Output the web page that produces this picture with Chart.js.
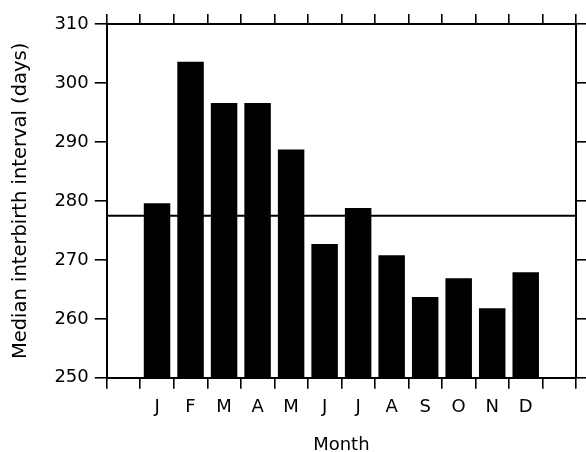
<!DOCTYPE html>
<html><head><meta charset="utf-8">
<script src="https://cdn.jsdelivr.net/npm/chart.js@4/dist/chart.umd.min.js"></script>
<style>html,body{margin:0;padding:0;background:#fff}#wrap{width:586px;height:452px}</style>
</head><body><div id="wrap"><canvas id="c"></canvas></div>
<script>
const months = ['J','F','M','A','M','J','J','A','S','O','N','D'];
const medianInterval = [279.6, 303.6, 296.6, 296.6, 288.7, 272.7, 278.8, 270.8, 263.7, 266.9, 261.8, 267.9];
const overallMedian = 277.5;
const yMin = 250, yMax = 310, yStep = 10;
const xTitle = 'Month';
const yTitle = 'Median interbirth interval (days)';

const labels = [''].concat(months, ['']);
const barData = [null].concat(medianInterval, [null]);
const refLine = [{x: 0, y: overallMedian}, {x: 1, y: overallMedian}];

const FONT = 'DejaVu Sans';
const axisGrid = (len) => ({display: true, drawOnChartArea: false, drawTicks: true, tickLength: len, color: '#000', lineWidth: 1.6});
const axisBorder = {display: true, color: '#000', width: 2};

new Chart(document.getElementById('c'), {
  type: 'bar',
  data: {
    labels: labels,
    datasets: [
      {type: 'bar', data: barData, backgroundColor: '#000', borderWidth: 0, grouped: false,
       barPercentage: 0.79, categoryPercentage: 1, xAxisID: 'x', yAxisID: 'y'},
      {type: 'line', data: refLine, borderColor: '#000', borderWidth: 2, pointRadius: 0,
       xAxisID: 'xl', yAxisID: 'y'}
    ]
  },
  options: {
    responsive: true, maintainAspectRatio: false, animation: false,
    layout: {padding: {top: 14, right: 0, left: 0, bottom: -4}},
    plugins: {legend: {display: false}, tooltip: {enabled: false}},
    scales: {
      x: {type: 'category', position: 'bottom', offset: true,
          grid: Object.assign(axisGrid(11), {offset: true}), border: axisBorder,
          ticks: {color: '#000', font: {family: FONT, size: 18}, padding: 8, maxRotation: 0, autoSkip: false},
          title: {display: true, text: xTitle, color: '#000', font: {family: FONT, size: 18}, padding: {top: 8, bottom: 0}}},
      xt: {type: 'category', position: 'top', offset: true,
          grid: Object.assign(axisGrid(10), {offset: true}), border: axisBorder,
          ticks: {display: false}},
      xl: {type: 'linear', display: false, offset: false, min: 0, max: 1},
      y: {type: 'linear', position: 'left', min: yMin, max: yMax,
          grid: axisGrid(12), border: axisBorder,
          ticks: {stepSize: yStep, color: '#000', font: {family: FONT, size: 18}, padding: 6},
          title: {display: true, text: yTitle, color: '#000', font: {family: FONT, size: 19.5}, padding: {top: 9, bottom: 16}}},
      yr: {type: 'linear', position: 'right', min: yMin, max: yMax,
          grid: axisGrid(10), border: axisBorder,
          ticks: {display: false, stepSize: yStep}}
    }
  }
});
</script>
</body></html>
